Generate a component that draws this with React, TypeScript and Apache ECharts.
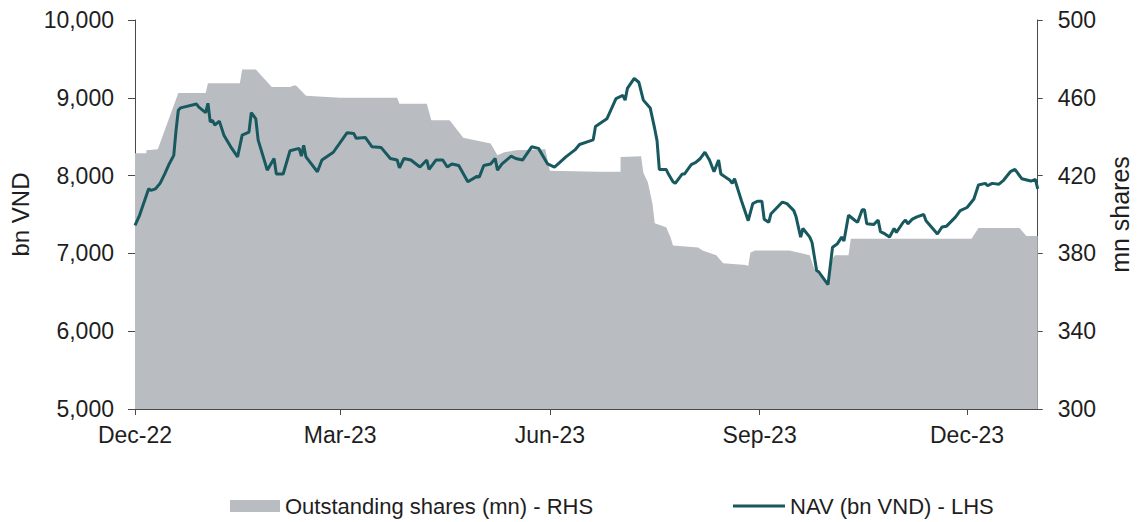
import React, { useEffect, useRef } from "react";
import * as echarts from "echarts";

// x values are days since 1 Dec 2022
const navDays = [0, 2, 4, 6, 7, 9, 11, 13, 15, 17, 18, 19, 20, 27, 28, 31, 32, 33, 34, 35, 37, 39, 42, 45, 47, 50, 51, 53, 54, 57, 58, 61, 62, 65, 68, 72, 73, 74, 75, 80, 82, 87, 93, 96, 97, 101, 104, 108, 112, 115, 116, 118, 121, 125, 128, 129, 132, 135, 137, 139, 142, 146, 150, 151, 153, 156, 158, 159, 161, 165, 167, 170, 174, 177, 181, 184, 186, 189, 193, 195, 199, 201, 202, 207, 211, 214, 215, 216, 219, 221, 223, 226, 228, 229, 230, 233, 234, 236, 237, 240, 241, 244, 246, 248, 250, 252, 254, 256, 257, 261, 262, 263, 266, 269, 271, 273, 275, 276, 278, 279, 284, 286, 289, 290, 292, 293, 296, 297, 299, 300, 304, 306, 308, 310, 311, 313, 316, 317, 319, 320, 321, 324, 326, 327, 329, 331, 333, 334, 337, 338, 339, 341, 343, 346, 347, 352, 354, 356, 360, 362, 365, 368, 370, 373, 374, 376, 379, 381, 384, 386, 389, 393, 395, 396];
const navValues = [7360, 7490, 7660, 7830, 7810, 7830, 7900, 8020, 8150, 8260, 8580, 8840, 8870, 8920, 8880, 8810, 8930, 8690, 8710, 8650, 8700, 8520, 8370, 8240, 8520, 8560, 8810, 8730, 8460, 8170, 8070, 8220, 8020, 8020, 8320, 8350, 8250, 8390, 8240, 8050, 8200, 8300, 8550, 8540, 8480, 8490, 8370, 8360, 8220, 8200, 8100, 8220, 8200, 8110, 8200, 8080, 8200, 8200, 8110, 8150, 8130, 7920, 7990, 7980, 8130, 8150, 8220, 8070, 8150, 8250, 8220, 8200, 8370, 8350, 8150, 8110, 8160, 8240, 8330, 8400, 8440, 8460, 8630, 8730, 8990, 9030, 8970, 9120, 9250, 9200, 8970, 8870, 8600, 8450, 8080, 8080, 8020, 7920, 7900, 8020, 8020, 8140, 8170, 8220, 8300, 8200, 8050, 8200, 8020, 7940, 7900, 7960, 7680, 7420, 7640, 7670, 7670, 7440, 7400, 7510, 7660, 7640, 7550, 7470, 7210, 7320, 7210, 7140, 6780, 6760, 6600, 7080, 7120, 7210, 7160, 7490, 7420, 7400, 7560, 7560, 7380, 7370, 7430, 7280, 7250, 7210, 7320, 7270, 7400, 7430, 7380, 7440, 7470, 7500, 7420, 7250, 7340, 7350, 7470, 7550, 7590, 7700, 7880, 7900, 7870, 7900, 7890, 7940, 8050, 8080, 7960, 7930, 7950, 7830];

const shareDays = [0, 5, 5, 10, 19, 31, 32, 46, 47, 53, 60, 68, 70, 71, 75, 90, 115, 116, 128, 130, 138, 144, 156, 159, 162, 167, 180, 182, 203, 213, 213, 222, 223, 225, 227, 228, 233, 235, 236, 247, 249, 255, 258, 268, 269, 270, 272, 287, 291, 296, 298, 304, 306, 307, 313, 314, 367, 370, 388, 391, 396];
const shareValues = [431.5, 431.5, 433, 433.5, 462.5, 462.5, 467.5, 467.5, 474.5, 474.5, 465.5, 465.5, 466.5, 466, 461, 460, 460, 457, 457, 448.5, 448.5, 439.5, 436.5, 430.5, 432, 433, 433.5, 422.5, 422, 422, 429.5, 430, 421.5, 416.5, 405.5, 395.5, 393.5, 388, 384, 383, 381.5, 379, 375, 374, 373.5, 380.5, 381.5, 381.5, 380.5, 379, 372, 363.5, 377.5, 379, 379, 387.5, 387.5, 393, 393, 389, 389];

const tickDays = [0, 90, 182, 274, 365];
const tickLabels = ["Dec-22", "Mar-23", "Jun-23", "Sep-23", "Dec-23"];

const SHARES_NAME = "Outstanding shares (mn) - RHS";
const NAV_NAME = "NAV (bn VND) - LHS";

const FONT = "'Liberation Sans', Arial, sans-serif";
const TEXT = "#1e1e1e";
const AXIS = "#4a4a4a";
const GRAY = "#b9bcc0";
const TEAL = "#17595f";

export default function App() {
  const ref = useRef<HTMLDivElement>(null);
  useEffect(() => {
    if (!ref.current) return;
    const chart = echarts.init(ref.current, undefined, { renderer: "svg" });
    const navData = navDays.map((d, i) => [d, navValues[i]]);
    const shareData = shareDays.map((d, i) => [d, shareValues[i]]);
    const legendText = { fontSize: 22, lineHeight: 24, color: TEXT, fontFamily: FONT };
    chart.setOption({
      animation: false,
      backgroundColor: "#ffffff",
      textStyle: { fontFamily: FONT },
      grid: { left: 135, right: 99, top: 20, bottom: 113, containLabel: false },
      legend: [
        {
          data: [{ name: SHARES_NAME, icon: "rect", itemStyle: { color: GRAY } }],
          left: 228,
          top: 492,
          padding: 2,
          itemWidth: 50,
          itemHeight: 12,
          textStyle: legendText,
        },
        {
          data: [{ name: NAV_NAME, icon: "rect", itemStyle: { color: TEAL } }],
          left: 731,
          top: 492,
          padding: 2,
          itemWidth: 52,
          itemHeight: 3,
          textStyle: legendText,
        },
      ],
      xAxis: {
        type: "value",
        min: 0,
        max: 396,
        splitLine: { show: false },
        axisLine: { show: true, lineStyle: { color: AXIS, width: 1 } },
        axisTick: { show: true, customValues: tickDays, length: 6, lineStyle: { color: AXIS } },
        axisLabel: {
          customValues: tickDays,
          formatter: (v: number) => {
            const i = tickDays.indexOf(Math.round(v));
            return i >= 0 ? tickLabels[i] : "";
          },
          fontSize: 23,
          color: TEXT,
          fontFamily: FONT,
          margin: 14,
        },
      },
      yAxis: [
        {
          type: "value",
          position: "left",
          min: 5000,
          max: 10000,
          interval: 1000,
          name: "bn VND",
          nameLocation: "middle",
          nameGap: 99,
          nameTextStyle: { fontSize: 24, color: TEXT, fontFamily: FONT },
          splitLine: { show: false },
          axisLine: { show: true, lineStyle: { color: AXIS, width: 1 } },
          axisTick: { show: true, length: 7, lineStyle: { color: AXIS } },
          axisLabel: {
            fontSize: 23,
            color: TEXT,
            fontFamily: FONT,
            margin: 21,
            formatter: (v: number) => v.toLocaleString("en-US"),
          },
        },
        {
          type: "value",
          position: "right",
          min: 300,
          max: 500,
          interval: 40,
          name: "mn shares",
          nameLocation: "middle",
          nameGap: 68,
          nameTextStyle: { fontSize: 25, color: TEXT, fontFamily: FONT },
          splitLine: { show: false },
          axisLine: { show: true, lineStyle: { color: AXIS, width: 1 } },
          axisTick: { show: true, length: 5, lineStyle: { color: AXIS } },
          axisLabel: { fontSize: 23, color: TEXT, fontFamily: FONT, margin: 20 },
        },
      ],
      series: [
        {
          name: SHARES_NAME,
          type: "line",
          yAxisIndex: 1,
          data: shareData,
          symbol: "none",
          lineStyle: { width: 0, color: GRAY },
          itemStyle: { color: GRAY },
          areaStyle: { color: GRAY, opacity: 1, origin: "start" },
          z: 1,
        },
        {
          name: NAV_NAME,
          type: "line",
          yAxisIndex: 0,
          data: navData,
          symbol: "none",
          lineStyle: { width: 3, color: TEAL },
          itemStyle: { color: TEAL },
          z: 3,
        },
      ],
    });
    return () => chart.dispose();
  }, []);
  return (
    <div
      ref={ref}
      style={{ position: "fixed", left: 0, top: 0, width: 1140, height: 522, background: "#fff" }}
    />
  );
}
